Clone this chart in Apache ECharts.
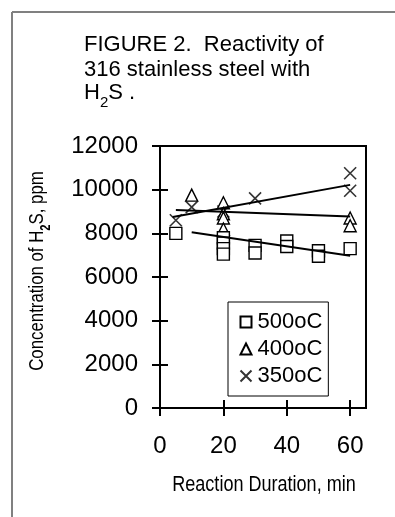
<!DOCTYPE html>
<html>
<head>
<meta charset="utf-8">
<style>
  html, body { margin: 0; padding: 0; background: #fff; }
  #chart { width: 395px; height: 517px; }
</style>
<script src="https://cdn.jsdelivr.net/npm/echarts@6/dist/echarts.min.js"></script>
</head>
<body>
<div id="chart"></div>
<script>
// ---- data ----
var seriesNames = ['500oC', '400oC', '350oC'];

var x500 = [5, 20, 20, 20, 20, 30, 30, 40, 40, 50, 50, 60];
var y500 = [8000, 7800, 7550, 7300, 7050, 7450, 7100, 7650, 7400, 7200, 6950, 7300];

var x400 = [10, 20, 20, 20, 20, 60, 60];
var y400 = [9750, 9400, 8900, 8700, 8200, 8700, 8350];

var x350 = [5, 10, 20, 30, 60, 60];
var y350 = [8600, 9200, 9000, 9600, 10750, 9950];

// linear trend lines (end points)
var trend500X = [10, 60], trend500Y = [8050, 6970];
var trend400X = [5, 60],  trend400Y = [9070, 8770];
var trend350X = [4, 60],  trend350Y = [8750, 10220];

var xTicks = [0, 20, 40, 60];

function pairs(xs, ys) { return xs.map(function (x, i) { return [x, ys[i]]; }); }

var FONT = "'Liberation Sans', Arial, sans-serif";
var xMarker = 'path://M0,0L10,10M10,0L0,10';

var chart = echarts.init(document.getElementById('chart'), null, { renderer: 'canvas' });

var markerStyle = { color: '#fff', borderColor: '#000', borderWidth: 1.4, opacity: 1 };
var lineStyle = { color: '#000', width: 2 };

var option = {
  backgroundColor: '#fff',
  animation: false,
  textStyle: { fontFamily: FONT, color: '#000' },
  grid: {
    left: 160, top: 146, right: 29, bottom: 109,
    show: true, borderColor: '#000', borderWidth: 2, backgroundColor: 'transparent'
  },
  legend: {
    data: seriesNames,
    orient: 'vertical',
    left: 228, top: 302,
    padding: [9, 6, 9, 10],
    itemWidth: 11, itemHeight: 11, itemGap: 5,
    borderColor: '#000', borderWidth: 1, borderRadius: 0,
    backgroundColor: '#fff',
    textStyle: { fontSize: 22, color: '#000', fontFamily: FONT, padding: [0, 0, 0, 1] }
  },
  xAxis: [{
    type: 'value', min: 0, max: 65, interval: 20,
    splitLine: { show: false },
    axisLine: { show: true, onZero: false, lineStyle: { color: '#000', width: 2 } },
    axisTick: { show: true, length: 8, inside: false, customValues: xTicks, lineStyle: { color: '#000', width: 2 } },
    axisLabel: { fontSize: 24, color: '#000', margin: 26, customValues: xTicks, fontFamily: FONT }
  }, {
    type: 'value', min: 0, max: 65, interval: 20, position: 'bottom', offset: 0,
    splitLine: { show: false },
    axisLine: { show: false, onZero: false },
    axisTick: { show: true, length: 8, inside: true, customValues: xTicks, lineStyle: { color: '#000', width: 2 } },
    axisLabel: { show: false }
  }],
  yAxis: [{
    type: 'value', min: 0, max: 12000, interval: 2000,
    splitLine: { show: false },
    axisLine: { show: true, onZero: false, lineStyle: { color: '#000', width: 2 } },
    axisTick: { show: true, length: 8, inside: false, lineStyle: { color: '#000', width: 2 } },
    axisLabel: { fontSize: 24, color: '#000', margin: 22, fontFamily: FONT, formatter: function (v) { return String(v); } }
  }, {
    type: 'value', min: 0, max: 12000, interval: 2000, position: 'left', offset: 0,
    splitLine: { show: false },
    axisLine: { show: false, onZero: false },
    axisTick: { show: true, length: 8, inside: true, lineStyle: { color: '#000', width: 2 } },
    axisLabel: { show: false }
  }],
  series: [
    {
      name: '350oC', type: 'scatter', symbol: xMarker, symbolSize: 12,
      itemStyle: { color: 'none', borderColor: '#000', borderWidth: 1.6 },
      data: pairs(x350, y350), z: 2
    },
    {
      name: '400oC', type: 'scatter', symbol: 'triangle', symbolSize: 12,
      itemStyle: markerStyle, data: pairs(x400, y400), z: 2
    },
    {
      name: '500oC', type: 'scatter', symbol: 'rect', symbolSize: 12,
      itemStyle: markerStyle, data: pairs(x500, y500), z: 2
    },
    { name: 't500', type: 'line', data: pairs(trend500X, trend500Y), showSymbol: false, symbol: 'none', lineStyle: lineStyle, z: 3, silent: true },
    { name: 't400', type: 'line', data: pairs(trend400X, trend400Y), showSymbol: false, symbol: 'none', lineStyle: lineStyle, z: 3, silent: true },
    { name: 't350', type: 'line', data: pairs(trend350X, trend350Y), showSymbol: false, symbol: 'none', lineStyle: lineStyle, z: 3, silent: true }
  ],
  graphic: [
    // outer frame (left and top grey lines)
    { type: 'line', shape: { x1: 12, y1: 12, x2: 395, y2: 12 }, style: { stroke: '#808080', lineWidth: 2 } },
    { type: 'line', shape: { x1: 12, y1: 12, x2: 12, y2: 517 }, style: { stroke: '#808080', lineWidth: 2 } },
    // title
    { type: 'text', x: 84, y: 45, style: { text: 'FIGURE 2.  Reactivity of', font: '22px ' + FONT, fill: '#000', textVerticalAlign: 'middle' } },
    { type: 'text', x: 84, y: 70, style: { text: '316 stainless steel with', font: '22px ' + FONT, fill: '#000', textVerticalAlign: 'middle' } },
    { type: 'text', x: 84, y: 96, style: {
        text: '{b|H}{s|2}{b|S .}',
        textVerticalAlign: 'middle', fill: '#000',
        rich: {
          b: { fontSize: 22, fontFamily: FONT, color: '#000', lineHeight: 28, verticalAlign: 'top' },
          s: { fontSize: 15, fontFamily: FONT, color: '#000', lineHeight: 28, verticalAlign: 'bottom' }
        }
    } },
    // y axis name (condensed)
    { type: 'text', x: 40, y: 271, rotation: Math.PI / 2, scaleX: 0.8, style: {
        text: '{b|Concentration of H}{s|2}{b|S, ppm}',
        textAlign: 'center', textVerticalAlign: 'middle', fill: '#000',
        rich: {
          b: { fontSize: 21, fontFamily: FONT, color: '#000', lineHeight: 26, verticalAlign: 'top' },
          s: { fontSize: 14, fontFamily: FONT, fontWeight: 'bold', color: '#000', lineHeight: 26, verticalAlign: 'bottom' }
        }
    } },
    // x axis name (condensed)
    { type: 'text', x: 264, y: 485, scaleX: 0.82, style: { text: 'Reaction Duration, min', font: '22px ' + FONT, fill: '#000', textAlign: 'center', textVerticalAlign: 'middle' } }
  ]
};

chart.setOption(option);
</script>
</body>
</html>
